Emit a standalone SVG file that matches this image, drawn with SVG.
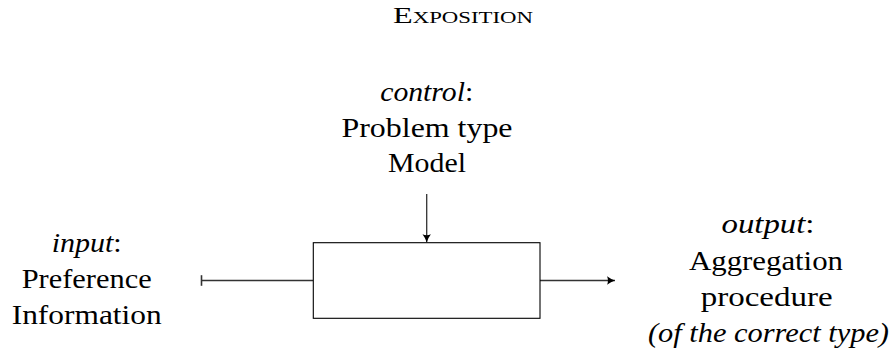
<svg xmlns="http://www.w3.org/2000/svg" width="896" height="351" viewBox="0 0 896 351">
<style>
.t{font-size:28px;fill:#000;text-anchor:middle}
.it{font-style:italic}
.title{font-variant:small-caps;font-size:24px}
.conn{stroke:#333;stroke-width:1.3;fill:none}
.box{stroke:#000;stroke-width:1.1;fill:#fff}
</style>
<defs>
<marker id="arr" markerUnits="userSpaceOnUse" viewBox="-9 -5 10 10" refX="0" refY="0" markerWidth="10" markerHeight="10" orient="auto">
<path d="M-8,-4.2 Q-4,-1.2 0,0 Q-4,1.2 -8,4.2 Q-6,0 -8,-4.2 Z" fill="#000"/>
</marker>
<marker id="bar" markerUnits="userSpaceOnUse" viewBox="-3 -6 6 12" refX="0" refY="0" markerWidth="6" markerHeight="12" orient="auto">
<line x1="0" y1="-5.3" x2="0" y2="5.3" stroke="#333" stroke-width="1.6"/>
</marker>
</defs>
<g id="title" font-family="Liberation Serif, serif">
<text class="t title" x="463" y="23.3" textLength="140" lengthAdjust="spacingAndGlyphs">Exposition</text>
</g>
<g id="connectors">
<line class="conn" x1="426.7" y1="194" x2="426.7" y2="242.2" marker-end="url(#arr)"/>
<line class="conn" x1="201.5" y1="280.5" x2="313.3" y2="280.5" marker-start="url(#bar)"/>
<line class="conn" x1="540" y1="280.5" x2="615" y2="280.5" marker-end="url(#arr)"/>
</g>
<g id="process">
<rect class="box" x="313.3" y="242.7" width="226.7" height="75.6"/>
</g>
<g id="control" font-family="Liberation Serif, serif">
<text class="t" x="426.7" y="100.7" textLength="93" lengthAdjust="spacingAndGlyphs"><tspan class="it">control</tspan>:</text>
<text class="t" x="427" y="137" textLength="171" lengthAdjust="spacingAndGlyphs">Problem type</text>
<text class="t" x="427" y="172" textLength="78" lengthAdjust="spacingAndGlyphs">Model</text>
</g>
<g id="input" font-family="Liberation Serif, serif">
<text class="t" x="86.7" y="251.7" textLength="70" lengthAdjust="spacingAndGlyphs"><tspan class="it">input</tspan>:</text>
<text class="t" x="86.7" y="288" textLength="130" lengthAdjust="spacingAndGlyphs">Preference</text>
<text class="t" x="86.7" y="324" textLength="150" lengthAdjust="spacingAndGlyphs">Information</text>
</g>
<g id="output" font-family="Liberation Serif, serif">
<text class="t" x="768" y="232.7" textLength="93" lengthAdjust="spacingAndGlyphs"><tspan class="it">output</tspan>:</text>
<text class="t" x="766" y="270" textLength="154" lengthAdjust="spacingAndGlyphs">Aggregation</text>
<text class="t" x="766.7" y="306" textLength="132" lengthAdjust="spacingAndGlyphs">procedure</text>
<text class="t it" x="768.5" y="341.7" textLength="241" lengthAdjust="spacingAndGlyphs">(of the correct type)</text>
</g>
</svg>
